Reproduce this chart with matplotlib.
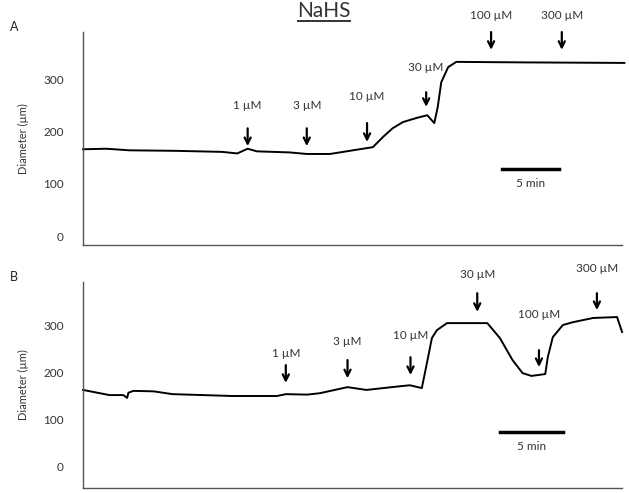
import numpy as np
import matplotlib.pyplot as plt

plt.rcParams['font.family'] = ['Lato', 'DejaVu Sans']

# panel A trace: time (min) vs diameter (um)
t_a = [0, 2, 4, 8, 12, 13.3, 14.2, 15, 17.8, 19.3, 21.3, 23, 25.0, 25.9, 26.7,
       27.6, 28.8, 29.7, 30.3, 30.6, 30.9, 31.5, 32.2, 38, 46.7]
d_a = [166, 167, 164, 163, 161, 158, 167, 162, 160, 157, 157, 163, 170, 190, 206,
       218, 226, 231, 216, 247, 294, 323, 333, 332, 331]

# panel B trace
t_b = [0, 2.1, 3.2, 3.5, 3.6, 4, 5.6, 7.1, 11.9, 15.4, 16.1, 17.8, 18.8, 21.0,
       22.5, 25.2, 25.95, 26.9, 27.3, 27.7, 28.1, 28.9, 32.1, 33.1, 34.1, 34.9,
       35.6, 36.7, 36.9, 37.3, 38.1, 38.9, 40.5, 42.4, 42.8]
d_b = [163, 152, 152, 146, 157, 161, 160, 154, 150, 150, 154, 153, 156, 169,
       163, 171, 173, 167, 220, 274, 291, 306, 306, 274, 227, 199,
       193, 197, 233, 276, 302, 308, 317, 319, 287]

doses = ["1 µM", "3 µM", "10 µM", "30 µM", "100 µM", "300 µM"]
# arrow time, tail, tip, label height
arr_a_t = [14.2, 19.3, 24.5, 29.6, 35.2, 41.3]
arr_a_tail = [206, 206, 216, 275, 390, 390]
arr_a_tip = [172, 172, 180, 247, 356, 356]
arr_a_lab = [249, 249, 266, 323, 421, 421]

arr_b_t = [16.1, 21.0, 26.0, 31.3, 36.2, 40.8]
arr_b_tail = [216, 227, 233, 370, 248, 370]
arr_b_tip = [178, 188, 195, 330, 212, 334]
arr_b_lab = [242, 266, 280, 409, 325, 422]

fig = plt.figure(figsize=(6.29, 4.93), dpi=100)
ax_a = fig.add_axes([0.132, 0.503, 0.857, 0.432])
ax_b = fig.add_axes([0.132, 0.010, 0.857, 0.418])


def style(ax, xmax, ylim):
    ax.set_xlim(0, xmax)
    ax.set_ylim(*ylim)
    ax.set_yticks([0, 100, 200, 300])
    ax.set_xticks([])
    for s in ['top', 'right']:
        ax.spines[s].set_visible(False)
    for s in ['left', 'bottom']:
        ax.spines[s].set_color('#555555')
        ax.spines[s].set_linewidth(1.0)
    ax.tick_params(axis='y', length=0, pad=14, labelsize=8.5, labelcolor='#333333')
    ax.set_ylabel("Diameter (µm)", fontsize=8, color='#333333', labelpad=10)


def arrows(ax, ts, tails, tips, labs):
    for lab, t, tl, tp, ly in zip(doses, ts, tails, tips, labs):
        ax.annotate("", xy=(t, tp), xytext=(t, tl),
                    arrowprops=dict(arrowstyle='->', lw=1.6, color='black',
                                    mutation_scale=11, shrinkA=0, shrinkB=0),
                    annotation_clip=False)
        ax.text(t, ly, lab, ha='center', va='center', fontsize=8.5, color='#333333',
                clip_on=False)


ax_a.plot(t_a, d_a, color='black', lw=1.4, clip_on=False)
style(ax_a, 46.5, (-17, 390))
arrows(ax_a, arr_a_t, arr_a_tail, arr_a_tip, arr_a_lab)
ax_a.plot([36.1, 41.1], [128, 128], color='black', lw=2.5)
ax_a.text(38.6, 101, "5 min", ha='center', va='center', fontsize=8.5, color='#333333')

ax_b.plot(t_b, d_b, color='black', lw=1.4, clip_on=False)
style(ax_b, 42.8, (-47, 394))
arrows(ax_b, arr_b_t, arr_b_tail, arr_b_tip, arr_b_lab)
ax_b.plot([33.1, 38.1], [73, 73], color='black', lw=2.5)
ax_b.text(35.6, 43, "5 min", ha='center', va='center', fontsize=8.5, color='#333333')

fig.text(0.515, 0.978, "NaHS", ha='center', va='center', fontsize=15, color='#333333')
fig.add_artist(plt.Line2D([0.474, 0.556], [0.957, 0.957], color='#333333', lw=1.4))
fig.text(0.016, 0.945, "A", ha='left', va='center', fontsize=9, color='#222222')
fig.text(0.016, 0.438, "B", ha='left', va='center', fontsize=9, color='#222222')

fig.savefig("out.png", dpi=100)
